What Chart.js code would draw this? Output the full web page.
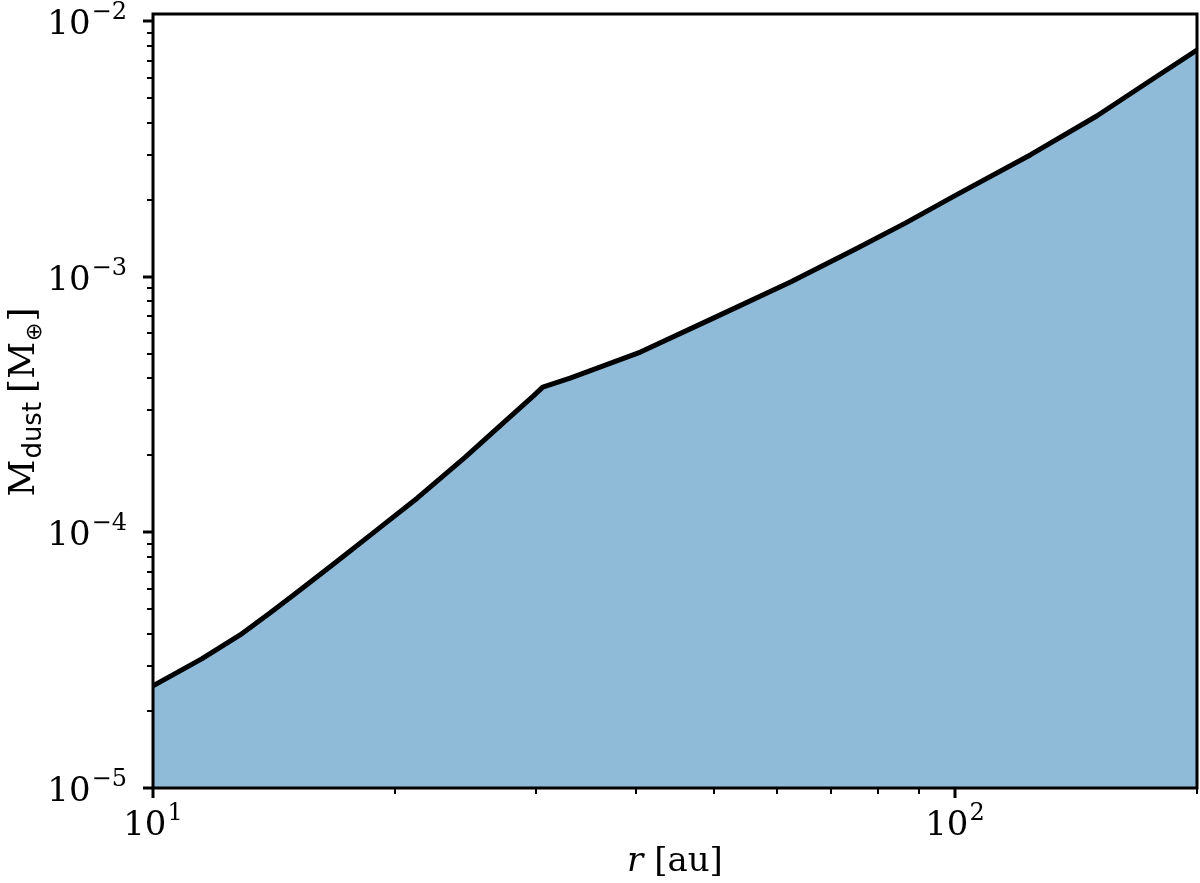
<!DOCTYPE html>
<html>
<head>
<meta charset="utf-8">
<script src="https://cdn.jsdelivr.net/npm/chart.js@4"></script>
<style>
  html, body { margin: 0; padding: 0; background: #fff; }
  #wrap { width: 1200px; height: 883px; }
</style>
</head>
<body>
<div id="wrap"><canvas id="massChart" width="1200" height="883"></canvas></div>
<script>
// radius [au] and cumulative dust mass [M_earth]
const radius = [10, 11.5, 12.84, 14.0, 15.25, 16.96, 19.0, 21.34, 24.5, 27.5, 29.77, 30.6, 33.1, 40.5, 50.0, 62.3, 75.0, 86.6, 100, 124.1, 150, 175, 200];
const dustMass = [2.51e-5, 3.2e-5, 3.97e-5, 4.85e-5, 5.95e-5, 7.7e-5, 1.02e-4, 1.36e-4, 1.97e-4, 2.73e-4, 3.41e-4, 3.70e-4, 4.01e-4, 5.07e-4, 6.9e-4, 9.53e-4, 1.28e-3, 1.62e-3, 2.08e-3, 3.0e-3, 4.25e-3, 5.85e-3, 7.7e-3];

const xTicks = [10, 100];
const xTickExps = ["1", "2"];
const yTicks = [1e-5, 1e-4, 1e-3, 1e-2];
const yTickExps = ["\u22125", "\u22124", "\u22123", "\u22122"];

const SERIF = "'DejaVu Serif', serif";
const SANS = "'DejaVu Sans', sans-serif";

function isMinorTick(v) {
  const m = v / Math.pow(10, Math.floor(Math.log10(v) + 1e-9));
  return Math.abs(m - Math.round(m)) < 1e-6 && Math.round(m) !== 1;
}

function drawRun(ctx, parts, x, y) {
  // parts: [text, font, dy, gapAfter]
  for (const [s, f, dy, gap] of parts) {
    ctx.font = f;
    ctx.fillText(s, x, y + dy);
    x += ctx.measureText(s).width + (gap || 0);
  }
}

function runWidth(ctx, parts) {
  let w = 0;
  for (const [s, f, , gap] of parts) { ctx.font = f; w += ctx.measureText(s).width + (gap || 0); }
  return w;
}

// frame, ticks, tick labels and axis titles, matplotlib-style
const axesPlugin = {
  id: "axesPlugin",
  afterDatasetsDraw(chart) {
    const ctx = chart.ctx;
    const a = chart.chartArea;
    const xs = chart.scales.x;
    const ys = chart.scales.y;
    ctx.save();
    ctx.strokeStyle = "#000";
    ctx.fillStyle = "#000";
    ctx.textBaseline = "alphabetic";
    ctx.textAlign = "left";

    ctx.lineWidth = 3;
    ctx.strokeRect(a.left, a.top, a.right - a.left, a.bottom - a.top);

    // minor ticks
    ctx.lineWidth = 2;
    for (const t of xs.ticks) {
      if (!isMinorTick(t.value)) continue;
      const px = Math.round(xs.getPixelForValue(t.value));
      ctx.beginPath(); ctx.moveTo(px, a.bottom); ctx.lineTo(px, a.bottom + 6); ctx.stroke();
    }
    for (const t of ys.ticks) {
      if (!isMinorTick(t.value)) continue;
      const py = Math.round(ys.getPixelForValue(t.value));
      ctx.beginPath(); ctx.moveTo(a.left, py); ctx.lineTo(a.left - 6, py); ctx.stroke();
    }

    // major ticks + labels
    ctx.lineWidth = 3;
    const big = "34px " + SERIF;
    const sup = "24px " + SERIF;
    xTicks.forEach((v, i) => {
      const px = Math.round(xs.getPixelForValue(v));
      ctx.beginPath(); ctx.moveTo(px, a.bottom); ctx.lineTo(px, a.bottom + 10); ctx.stroke();
      const parts = [["10", big, 0, 1], [xTickExps[i], sup, -15, 0]];
      drawRun(ctx, parts, px - runWidth(ctx, parts) / 2, a.bottom + 47);
    });
    yTicks.forEach((v, i) => {
      const py = Math.round(ys.getPixelForValue(v));
      ctx.beginPath(); ctx.moveTo(a.left, py); ctx.lineTo(a.left - 10, py); ctx.stroke();
      const parts = [["10", big, 0, 1], [yTickExps[i], sup, -15, 0]];
      drawRun(ctx, parts, a.left - 26 - runWidth(ctx, parts), py + 13);
    });

    // x axis title: r [au]
    const xt = [["r", "italic 34px " + SERIF, 0, 0], [" [au]", "34px " + SERIF, 0, 0]];
    drawRun(ctx, xt, (a.left + a.right) / 2 - runWidth(ctx, xt) / 2, 871);

    // y axis title: M_dust [M_earth]
    const yt = [
      ["M", "36px " + SERIF, 0, 1],
      ["dust", "26px " + SANS, 7, 9],
      ["[M", "36px " + SERIF, 0, 1],
      ["\u2295", "22px " + SANS, 7, 1],
      ["]", "36px " + SERIF, 0, 0]
    ];
    ctx.translate(34, 402);
    ctx.rotate(-Math.PI / 2);
    drawRun(ctx, yt, -runWidth(ctx, yt) / 2, 0);
    ctx.restore();
  }
};

new Chart(document.getElementById("massChart"), {
  type: "line",
  data: {
    labels: radius,
    datasets: [{
      data: radius.map((r, i) => ({ x: r, y: dustMass[i] })),
      borderColor: "#000",
      borderWidth: 5,
      borderJoinStyle: "round",
      backgroundColor: "rgb(143, 186, 216)",
      fill: "start",
      pointRadius: 0,
      tension: 0
    }]
  },
  options: {
    responsive: false,
    animation: false,
    layout: { padding: { left: 153, right: 3, top: 14, bottom: 95 } },
    plugins: { legend: { display: false }, tooltip: { enabled: false } },
    scales: {
      x: { type: "logarithmic", min: 10, max: 200, display: false },
      y: { type: "logarithmic", min: 1e-5, max: 0.01065, display: false }
    }
  },
  plugins: [axesPlugin]
});
</script>
</body>
</html>
